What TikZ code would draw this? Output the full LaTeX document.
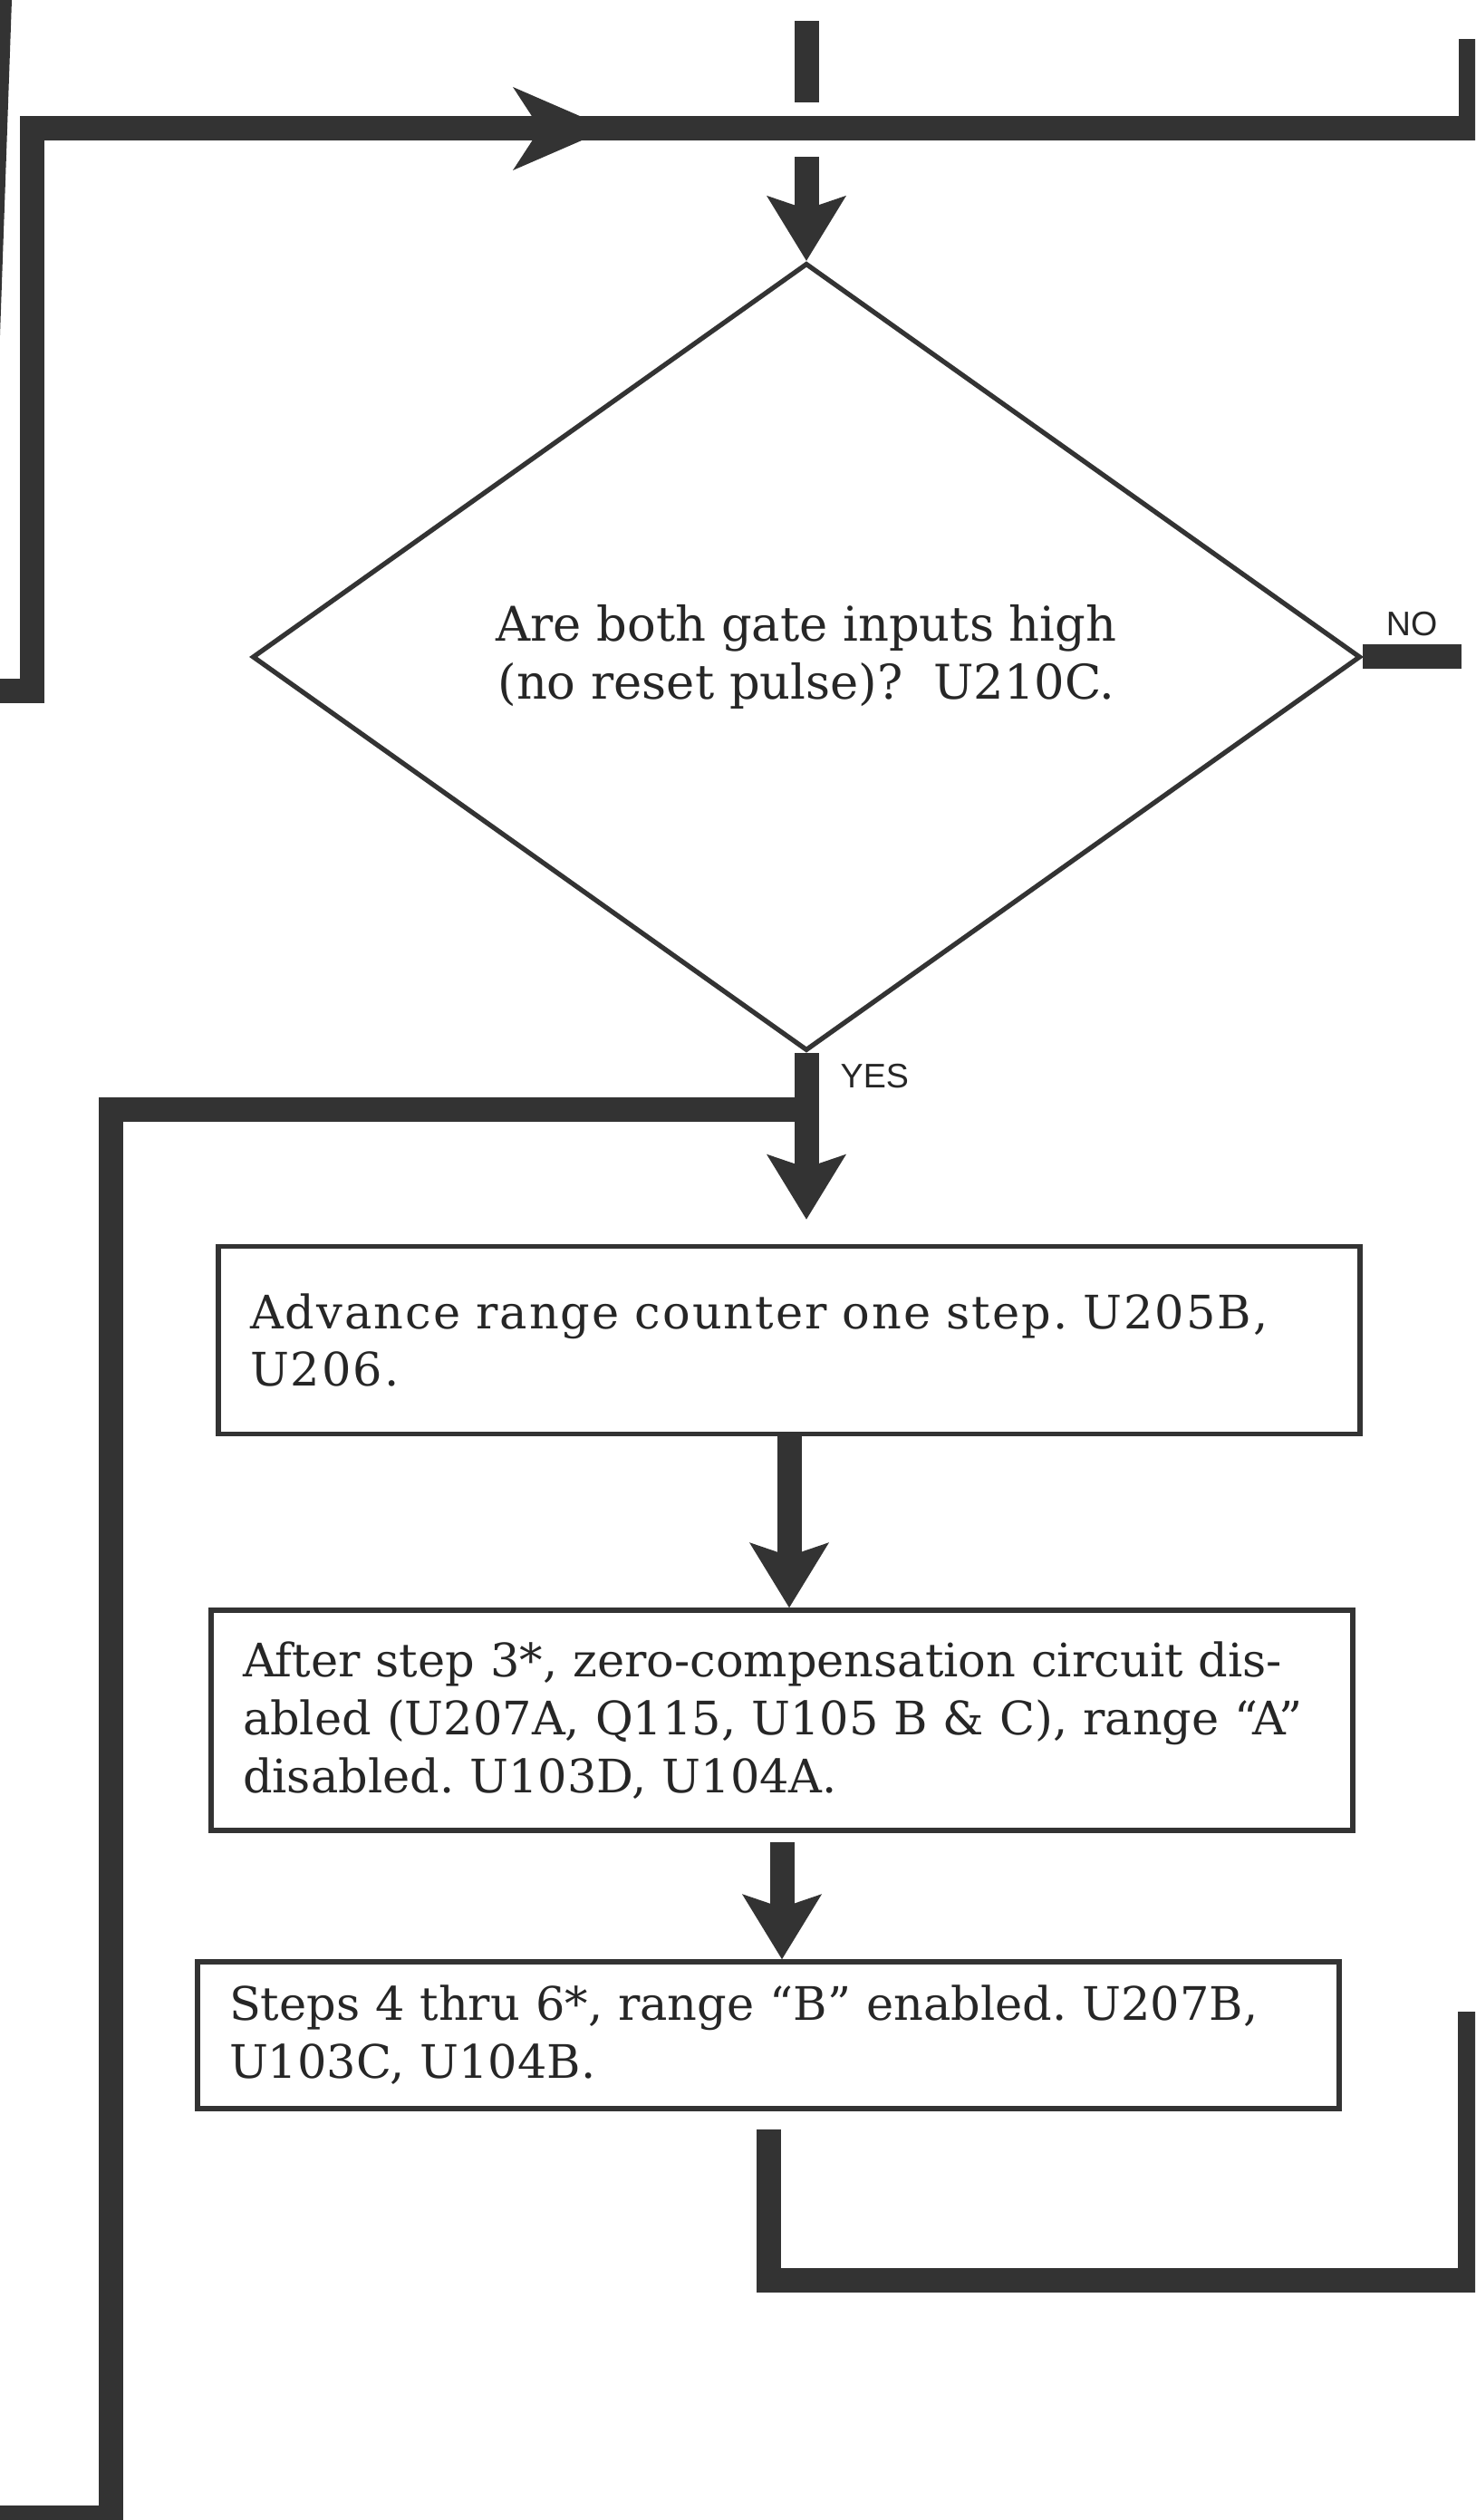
\documentclass[tikz,border=0pt]{standalone}
\usepackage{fontspec}
\setmainfont{DejaVu Serif}
\newfontfamily\ynfont{Liberation Sans}
\usetikzlibrary{calc, arrows.meta, shapes.geometric}
\frenchspacing

\begin{document}
\begin{tikzpicture}[
    ink/.style    = {draw=black!80},
    flow/.style   = {ink, line width=0.27cm},
    tip/.style    = {-{Stealth[length=0.72cm, width=0.88cm, inset=0.15cm, line width=0pt]}},
    midtip/.style = {-{Stealth[length=1.06cm, width=0.92cm, inset=0.3cm, line width=0pt]}},
    box/.style    = {ink, rectangle, line width=1.6pt, text width=11.9cm, align=left,
                     inner xsep=0.35cm, inner ysep=0pt, text=black!85,
                     font=\fontsize{14.5}{18.2}\selectfont},
    decide/.style = {ink, diamond, line width=1.5pt, minimum width=12.23cm,
                     minimum height=8.69cm, align=center, text=black!85,
                     font=\fontsize{15}{18.2}\selectfont},
    yn/.style     = {font=\ynfont\fontsize{10.7}{12}\selectfont, text=black!85, inner sep=0pt},
  ]

  % ---------- 画布：与原图同比例 ----------
  \useasboundingbox (0,0) rectangle (16.28,-27.81);
  \clip (0,0) rectangle (16.28,-27.81);

  % ---------- 扫描边缘的暗条 ----------
  \fill[black!80] (0,0) -- (0.13,0) -- (0,-3.7) -- cycle;

  % ---------- 关键点 ----------
  \coordinate (inA)   at (8.9,-0.23);    % 上方进入的线
  \coordinate (inB)   at (8.9,-1.13);
  \coordinate (inC)   at (8.9,-1.73);
  \coordinate (tlOut) at (-0.2,-7.63);   % 左上回路
  \coordinate (tlTop) at (0.35,-1.42);
  \coordinate (tlMid) at (6.72,-1.42);
  \coordinate (trTop) at (16.23,-1.42);
  \coordinate (trOut) at (16.23,-0.43);
  \coordinate (noEnd) at (16.13,-7.25);
  \coordinate (lpFoot) at (1.22,-27.78); % 左下回路
  \coordinate (lpOut)  at (-0.2,-27.78);
  \coordinate (brBot) at (16.22,-25.16); % 右下回路
  \coordinate (brTop) at (16.22,-22.2);

  % ---------- 判断框 ----------
  \node[decide] (dia) at (8.9,-7.25)
    {Are both gate inputs high\\(no reset pulse)?\ \ U210C.};
  \coordinate (yesJ) at ($(dia.south)+(0,-0.62)$);

  % ---------- 处理框 ----------
  \node[box, minimum height=2.07cm] (count) at (8.71,-14.79)
    {\addfontfeatures{LetterSpace=4}Advance range counter one step. U205B,\\U206.};
  \node[box, minimum height=2.43cm] (rangeA) at (8.63,-18.985)
    {After step 3*, zero-compensation circuit dis-\\abled (U207A, Q115, U105 B \& C), range “A”\\disabled. U103D, U104A.};
  \node[box, minimum height=1.62cm] (rangeB) at (8.48,-22.46)
    {Steps 4 thru 6*, range “B” enabled. U207B,\\U103C, U104B.};

  % ---------- 上方回路（跨线处断开）----------
  \draw[flow] (tlOut) -| (tlTop) -- (trTop) -- (trOut);
  \draw[flow, midtip] (tlTop) -- (tlMid);
  \draw[flow] (inA) -- (inB);
  \draw[flow, tip] (inC) -- (dia.north);

  % ---------- NO / YES 出口 ----------
  \draw[flow] (dia.east) -- (noEnd);
  \node[yn, anchor=base west] (no) at ($(dia.east)+(0.25,0.23)$) {NO};
  \draw[flow] (dia.south) -- (yesJ);
  \node[yn, anchor=base west] (yes) at ($(dia.south)+(0.37,-0.385)$) {YES};

  % ---------- 左侧回路 ----------
  \draw[flow] (yesJ) -| (lpFoot) -- (lpOut);

  % ---------- 框间箭头 ----------
  \draw[flow, tip, shorten >=0.27cm] (yesJ) -- (yesJ |- count.north);
  \draw[flow, tip] (count.south) -- (count.south |- rangeA.north);
  \draw[flow, tip, shorten <=0.1cm] (rangeA.south) -- (rangeA.south |- rangeB.north);

  % ---------- 右下回路 ----------
  \draw[flow, shorten <=0.2cm] (rangeB.south) |- (brBot) -- (brTop);

\end{tikzpicture}
\end{document}
